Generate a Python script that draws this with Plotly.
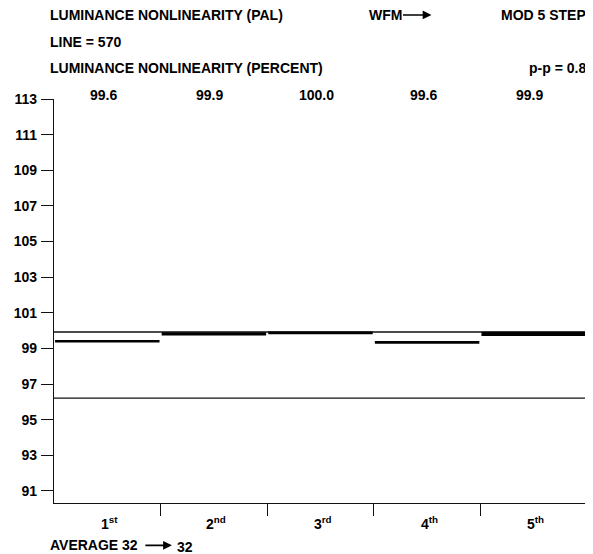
import plotly.graph_objects as go

# step readout: five steps of the modulated staircase
step_ordinals = ["1", "2", "3", "4", "5"]
step_suffixes = ["st", "nd", "rd", "th", "th"]
step_levels = [99.4, 99.81, 99.87, 99.34, 99.81]
step_readouts = ["99.6", "99.9", "100.0", "99.6", "99.9"]
upper_reference = 99.92
lower_reference = 96.21
y_ticks = [91, 93, 95, 97, 99, 101, 103, 105, 107, 109, 111, 113]

SEG_WIDTHS = [2.6, 3.3, 2.6, 2.6, 4.3]
INK = "#111111"
FONT = "Liberation Sans, Arial, Helvetica, sans-serif"

# the page body has an 8px margin, so the figure starts at (8, 8)
OFF = 8
W, H = 593 - OFF, 554 - OFF
# plot box in page pixels
L, R, T, B = 49, 587, 99, 502.7
TXT = -5  # annotation text sits a few px right of its anchor


def px(x):
    return (x - L) / (R - L)


def py(y):
    return (B - y) / (B - T)


n = len(step_levels)
xs = list(range(1, n + 1))

fig = go.Figure()

for ref in (upper_reference, lower_reference):
    fig.add_trace(
        go.Scatter(
            x=[0.5, n + 0.5],
            y=[ref, ref],
            mode="lines",
            line=dict(color=INK, width=1.3),
            hoverinfo="skip",
        )
    )

for i, (x, v) in enumerate(zip(xs, step_levels)):
    fig.add_trace(
        go.Scatter(
            x=[x - 0.49, x + 0.49],
            y=[v, v],
            mode="lines",
            line=dict(color="black", width=SEG_WIDTHS[i]),
            hovertemplate=f"Step {x}: %{{y:.2f}}<extra></extra>",
        )
    )

annotations = [
    dict(text="LUMINANCE NONLINEARITY (PAL)", x=px(48 + TXT), y=py(15), xanchor="left"),
    dict(text="WFM", x=px(370 + TXT), y=py(15), xanchor="left"),
    dict(text="MOD 5 STEP", x=px(588), y=py(15), xanchor="right"),
    dict(text="LINE = 570", x=px(48 + TXT), y=py(42), xanchor="left"),
    dict(text="LUMINANCE NONLINEARITY (PERCENT)", x=px(48 + TXT), y=py(68), xanchor="left"),
    dict(text="p-p = 0.8", x=px(588), y=py(68), xanchor="right"),
    dict(text="AVERAGE 32", x=px(48 + TXT), y=py(545), xanchor="left"),
    dict(text="32", x=px(176 + TXT), y=py(547), xanchor="left"),
]
for a in annotations:
    a.update(xref="paper", yref="paper", yanchor="middle", showarrow=False)

# arrows
for tip_x, tip_y, length in [(430, 15, 30), (168, 545, 28)]:
    annotations.append(
        dict(
            xref="paper", yref="paper", x=px(tip_x), y=py(tip_y),
            ax=-length, ay=0, text="", showarrow=True,
            arrowhead=2, arrowsize=1.1, arrowwidth=1.6, arrowcolor="black",
        )
    )

# numeric readouts above each step
for x, label in zip(xs, step_readouts):
    annotations.append(
        dict(
            x=x, y=py(95), xref="x", yref="paper", text=label,
            showarrow=False, xshift=-4, yanchor="middle",
        )
    )

# ordinal step labels under the axis
for x, num, suf in zip(xs, step_ordinals, step_suffixes):
    annotations.append(
        dict(
            x=x, y=py(523), xref="x", yref="paper",
            text=f"{num}<sup>{suf}</sup>",
            showarrow=False, xshift=2, yanchor="middle",
        )
    )

fig.update_layout(
    width=W,
    height=H,
    autosize=False,
    margin=dict(l=L - OFF, r=W - (R - OFF), t=T - OFF, b=H - (B - OFF)),
    plot_bgcolor="white",
    paper_bgcolor="white",
    showlegend=False,
    font=dict(family=FONT, size=14, color="black", weight="bold"),
    annotations=annotations,
    xaxis=dict(
        range=[0.5, n + 0.5],
        tickvals=[x + 0.5 for x in xs],
        ticktext=["" for _ in xs],
        ticks="outside",
        ticklen=12,
        tickwidth=1.3,
        tickcolor=INK,
        showline=True,
        linecolor=INK,
        linewidth=1.3,
        showgrid=False,
        zeroline=False,
    ),
    yaxis=dict(
        range=[90.32, 113],
        tickvals=y_ticks,
        ticks="outside",
        ticklen=12,
        tickwidth=1.3,
        tickcolor=INK,
        showline=True,
        linecolor=INK,
        linewidth=1.3,
        showgrid=False,
        zeroline=False,
        tickfont=dict(size=14),
        ticklabelstandoff=1,
    ),
)

fig.write_html("out.html")
